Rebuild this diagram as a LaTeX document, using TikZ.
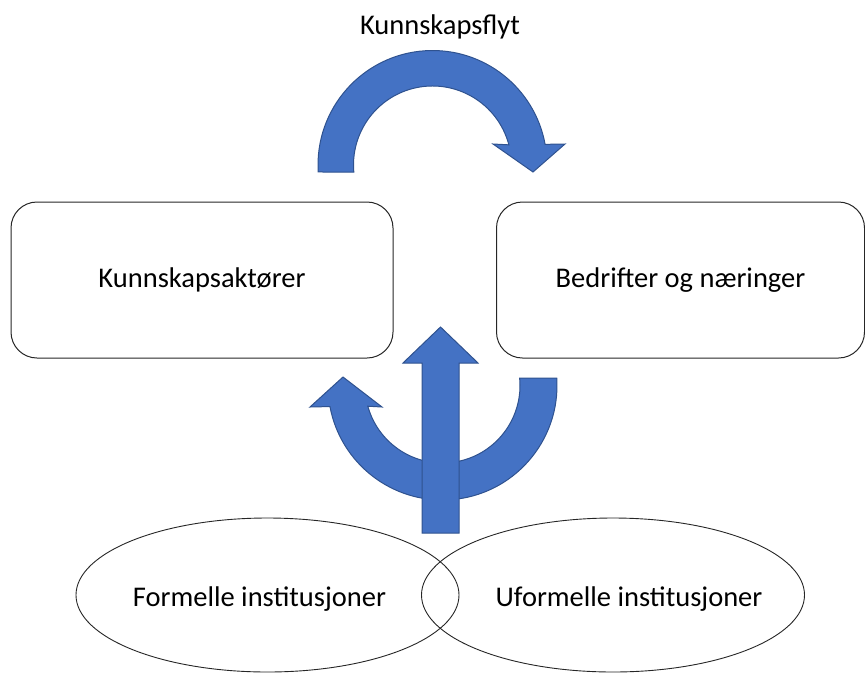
\documentclass[tikz,border=0pt]{standalone}
\usepackage{fontspec}
\setmainfont{Carlito}
\usetikzlibrary{shapes.geometric}
\definecolor{arrowblue}{HTML}{4472C4}
\definecolor{arrowedge}{HTML}{2F528F}
\begin{document}
\begin{tikzpicture}[x=1pt,y=1pt,
  every node/.style={font=\fontsize{28.5}{34}\selectfont},
  boxnode/.style={draw=black!85, line width=1pt, rounded corners=26pt, minimum height=156pt, inner sep=0pt},
  ellnode/.style={draw=black!85, line width=0.9pt, ellipse, minimum width=383pt, minimum height=154pt, inner sep=0pt},
  bluearrow/.style={fill=arrowblue, draw=arrowedge, line width=1pt, line join=miter}
]
\useasboundingbox (0,0) rectangle (865,-673);

% ellipses
\node[ellnode] (formell) at (267.5,-595) {};
\node[ellnode] (uformell) at (613,-595) {};
\node (formtxt) at (259.5,-599) {Formelle institusjoner};
\node (uformtxt) at (629,-599) {Uformelle institusjoner};

% boxes
\node[boxnode, minimum width=382pt] (aktor) at (202,-280) {Kunnskapsaktører};
\node[boxnode, minimum width=368pt] (bedrift) at (680.5,-280) {Bedrifter og næringer};

% title
\node (flyt) at (440,-27) {Kunnskapsflyt};

% top curved arrow
\coordinate (ctop) at (432.5,-165);
\draw[bluearrow] ([shift={(183.5:114.5)}]ctop)
  arc[start angle=183.5, end angle=10.4, radius=114.5pt]
  -- (565,-144) -- (533,-172) -- (493,-144)
  -- ([shift={(14.8:79)}]ctop)
  arc[start angle=14.8, end angle=185.1, radius=79pt] -- cycle;

% bottom U-shaped arrow
\coordinate (cbot) at (442.5,-385.5);
\draw[bluearrow] ([shift={(3.75:114.5)}]cbot)
  arc[start angle=3.75, end angle=-169.4, radius=114.5pt]
  -- (310,-407) -- (343,-377) -- (382,-407)
  -- ([shift={(-164.5:77.5)}]cbot)
  arc[start angle=-164.5, end angle=5.55, radius=77.5pt] -- cycle;

% vertical arrow
\draw[bluearrow] (422,-533) -- (422,-363) -- (403,-363) -- (440.5,-327)
  -- (478,-363) -- (459,-363) -- (459,-533) -- cycle;
\end{tikzpicture}
\end{document}
